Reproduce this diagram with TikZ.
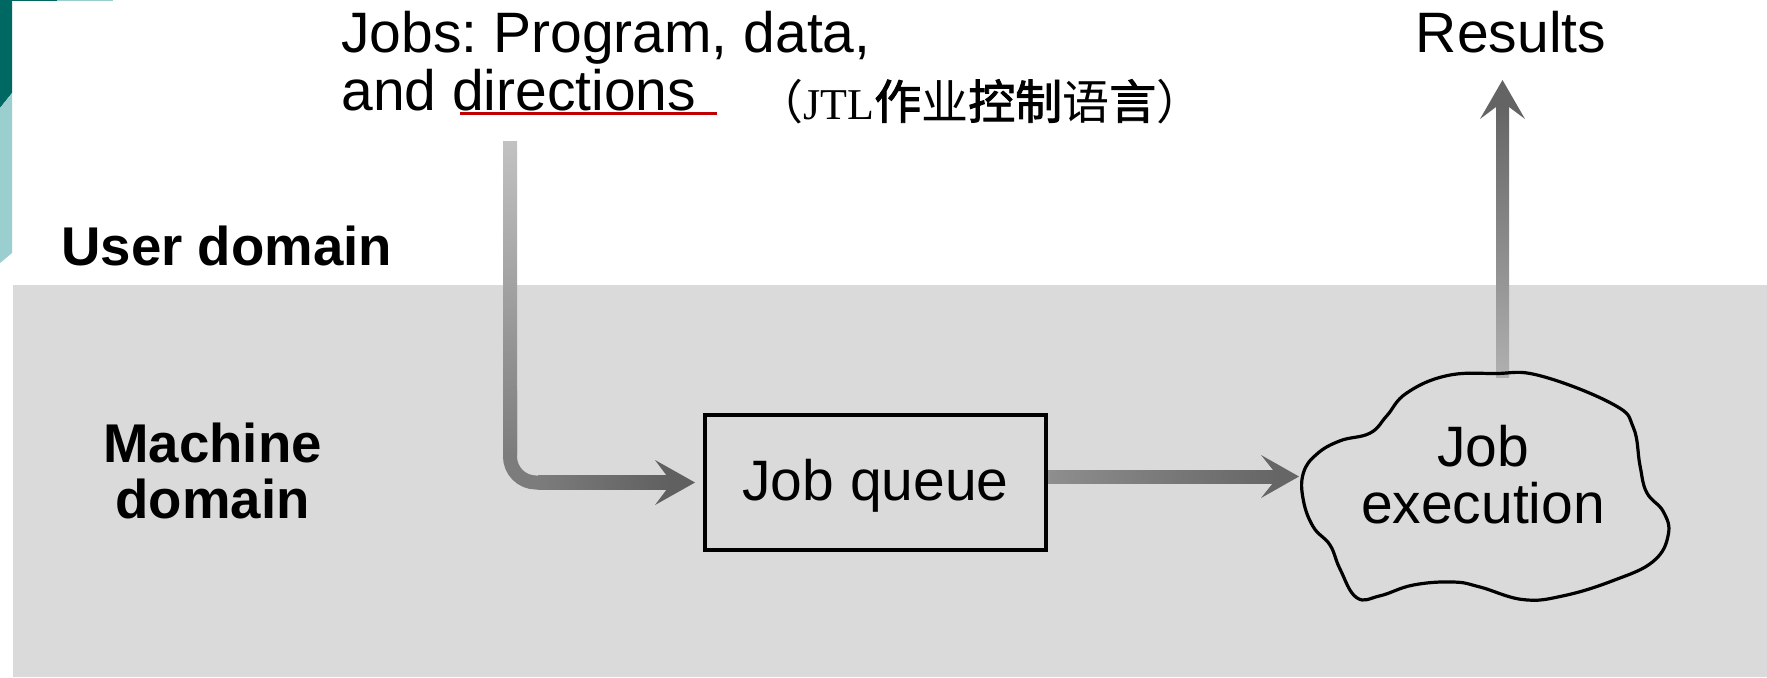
\documentclass[tikz,border=0pt]{standalone}
\usepackage{fontspec}
\setmainfont{Liberation Sans}
\newfontfamily\cjkfont{Noto Sans CJK SC}
\newfontfamily\cjkbold[FakeBold=2]{Noto Sans CJK SC}
\newfontfamily\tmsfont{Liberation Serif}
\usetikzlibrary{calc}
\frenchspacing
\definecolor{bggray}{HTML}{DADADA}
\definecolor{tealdark}{RGB}{0,104,98}
\definecolor{teallight}{RGB}{155,207,207}
\definecolor{ulred}{HTML}{C00000}
\definecolor{aonetop}{HTML}{C2C2C2}
\definecolor{aonemid}{HTML}{7C7C7C}
\definecolor{aoneend}{HTML}{606060}
\definecolor{atwostart}{HTML}{8E8E8E}
\definecolor{atwoend}{HTML}{666666}
\definecolor{athreetop}{HTML}{646464}
\definecolor{athreebot}{HTML}{B0B0B0}
\begin{document}
\begin{tikzpicture}[x=0.5pt,y=-0.5pt,
  lbl/.style={inner sep=0pt, font=\fontsize{28.5pt}{34pt}\selectfont},
  dom/.style={inner sep=0pt, font=\fontsize{27.3pt}{33pt}\selectfont\bfseries},
  queuebox/.style={draw=black, line width=2pt, minimum width=170.5pt, minimum height=67.5pt, inner sep=0pt, text height=20pt, text depth=2.5pt, font=\fontsize{28.5pt}{34pt}\selectfont},
  cloudline/.style={draw=black, line width=1.6pt, line join=round},
]
\useasboundingbox (0,0) rectangle (1767,677);
\fill[white] (0,0) rectangle (1767,677);
\fill[bggray] (13,285) rectangle (1767,677);
% teal corner decoration
\fill[tealdark] (0,0) -- (12,0) -- (12,93) -- (0,108) -- cycle;
\fill[teallight] (0,108) -- (12,93) -- (12,253) -- (0,263) -- cycle;
\fill[tealdark] (12,0) rectangle (57,1.3);
\fill[teallight] (57,0) rectangle (113,1.3);

% texts
\node[lbl, anchor=base west] (jobsa) at (341,52) {Jobs: Program, data,};
\node[lbl, anchor=base west] (jobsb) at (341,110) {and directions};
\draw[ulred, line width=1.5pt] (460,113.5) -- (717,113.5);
\node[inner sep=0pt, anchor=base west, font=\fontsize{23.5pt}{28pt}\selectfont] (jtl) at (756,119)
  {\cjkfont （{\fontsize{22pt}{26pt}\selectfont\tmsfont JTL}{\cjkbold 作}业{\cjkbold 控制}语{\cjkbold 言}）};
\node[lbl, anchor=base] (results) at (1511,52) {Results};
\node[dom, anchor=base west] (user) at (61,265) {User domain};
\node[dom, anchor=base] (macha) at (212.5,462) {Machine};
\node[dom, anchor=base] (machb) at (212.5,518) {domain};
\node[queuebox] (queue) at (875.5,482.5) {Job queue};

% connector coordinates
\coordinate (src) at (510,141);
\coordinate (bend) at (src |- queue.west);
\coordinate (tipone) at ($(queue.west)+(-8,0)$);
\coordinate (starttwo) at ($(queue.east)+(0,-6)$);
\coordinate (execW) at (1299,476.5);
\coordinate (execN) at (1502.5,377);
\coordinate (tipthree) at ($(execN |- results.base)+(0,28)$);

% arrow 1: input jobs -> job queue
\draw[aonemid, line width=7pt, rounded corners=13pt] ($(src)+(0,250)$) -- (bend) -- ($(bend)+(60,0)$);
\shade[top color=aonetop, bottom color=aonemid] ($(src)+(-7,0)$) rectangle ($(bend)+(7,-28)$);
\shade[left color=aonemid, right color=aoneend] ($(bend)+(28,-7)$) rectangle ($(tipone)+(-26,7)$);
\fill[aoneend] (tipone) -- ($(tipone)+(-40,-22.5)$) -- ($(tipone)+(-28,-6.5)$) -- ($(tipone)+(-28,6.5)$) -- ($(tipone)+(-40,22.5)$) -- cycle;

% arrow 2: job queue -> job execution
\shade[left color=atwostart, right color=atwoend] ($(starttwo)+(0,-6.5)$) rectangle ($(execW)+(-24,6.5)$);
\fill[atwoend] (execW) -- ($(execW)+(-38,-21.5)$) -- ($(execW)+(-26,-6.5)$) -- ($(execW)+(-26,6.5)$) -- ($(execW)+(-38,21.5)$) -- cycle;

% arrow 3: job execution -> results
\shade[top color=athreetop, bottom color=athreebot] ($(tipthree)+(-6.5,24)$) rectangle ($(execN)+(6.5,0)$);
\fill[athreetop] (tipthree) -- ($(tipthree)+(-22.5,39)$) -- ($(tipthree)+(-6.5,27)$) -- ($(tipthree)+(6.5,27)$) -- ($(tipthree)+(22.5,39)$) -- cycle;

% cloud
\draw[cloudline] plot[smooth cycle, tension=0.7] coordinates {
  (1406.7,393) (1446.7,375.7) (1495,373.5) (1540,375.7) (1613.3,404.4) (1633.3,427.4)
  (1640,465.7) (1646.7,492.5) (1663.3,511.6) (1668.3,534.5) (1653.3,561.3)
  (1613.3,580.5) (1563.3,595.8) (1523.3,599.6) (1480,587) (1453.3,582)
  (1413.3,585) (1380,595.8) (1356.7,597.7) (1340,569) (1330,545) (1313.3,526.9)
  (1303.3,500) (1303.3,473.3) (1316.7,454.2) (1340,440.8) (1370,433.1) (1386.7,415.9)};
\node[lbl, anchor=base] (execa) at (1483,466) {Job};
\node[lbl, anchor=base] (execb) at (1483,523) {execution};
\end{tikzpicture}
\end{document}
